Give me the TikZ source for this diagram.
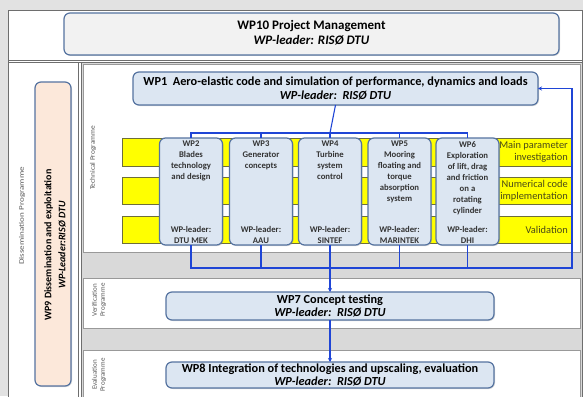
\documentclass[tikz,border=0pt]{standalone}
\usepackage{fontspec}
\setmainfont{Carlito}
\usetikzlibrary{arrows.meta,shadows}

\definecolor{wpfill}{HTML}{DCE6F2}
\definecolor{wpdraw}{HTML}{5573A0}
\definecolor{mgmtfill}{HTML}{F2F2F2}
\definecolor{dissfill}{HTML}{FCE8DA}
\definecolor{busblue}{HTML}{1F45D6}
\definecolor{barfill}{HTML}{FFFF00}
\definecolor{bardraw}{HTML}{6E6E3A}
\definecolor{bartext}{HTML}{4A4A18}
\definecolor{bandgray}{HTML}{D9D9D9}
\definecolor{pagegray}{HTML}{E2E2E2}
\definecolor{framegray}{HTML}{6E6E6E}

\tikzset{
  wp/.style={draw=wpdraw, line width=1.2pt, rounded corners=6pt, fill=wpfill,
    inner sep=0pt, outer sep=0pt,
    drop shadow={shadow xshift=1pt, shadow yshift=-1pt, opacity=0.3}},
  bigtxt/.style={font=\fontsize{12.3}{13.5}\selectfont\bfseries, align=center, inner sep=0pt},
  smalltxt/.style={font=\fontsize{8.7}{11}\selectfont\bfseries, align=center, inner sep=0pt, text=black!80},
  bus/.style={draw=busblue, line width=1.1pt},
  bartxt/.style={font=\fontsize{10.4}{12}\selectfont, align=right, text=bartext, anchor=east, inner sep=0pt},
  yellowbar/.style={fill=barfill, draw=bardraw, line width=0.7pt},
  progtxt/.style={font=\fontsize{7}{8}\selectfont, text=black!65, rotate=90, align=center, inner sep=0pt},
  panel/.style={fill=white, draw=framegray!70, line width=0.8pt},
  frameline/.style={draw=framegray, line width=0.9pt}
}

\begin{document}
\begin{tikzpicture}[x=1pt, y=-1pt]
  \useasboundingbox (0,0) rectangle (583,396);

  % page, outer frame and programme panels
  \fill[pagegray] (0,0) rectangle (583,396);
  \filldraw[fill=white, frameline] (8,10) rectangle (582,410);
  \fill[bandgray] (81,62) rectangle (582,410);
  \draw[panel] (83,64) rectangle (580,252);
  \draw[panel] (83,278) rectangle (580,328);
  \draw[panel] (83,350) rectangle (580,410);
  \draw[frameline] (8,60) -- (582,60);
  \draw[frameline] (8,62.5) -- (582,62.5);
  \draw[frameline] (78,62) -- (78,410);
  \draw[frameline] (81,62) -- (81,410);

  % programme labels
  \node[progtxt, xscale=1.3] (lbldis) at (22,216) {Dissemination Programme};
  \node[progtxt, xscale=1.05] (lbltec) at (93,158) {Technical Programme};
  \node[progtxt] (lblver) at (99,300) {Verification\\Programme};
  \node[progtxt] (lbleva) at (99,375) {Evaluation\\Programme};

  % activity bars
  \draw[yellowbar] (122,138) rectangle (572,166);
  \draw[yellowbar] (122,177) rectangle (572,204);
  \draw[yellowbar] (122,216) rectangle (572,243);
  \node[bartxt] (bar1) at (568,152) {Main parameter\\investigation};
  \node[bartxt] (bar2) at (568,191) {Numerical code\\implementation};
  \node[bartxt] (bar3) at (568,229.5) {Validation};

  % management and dissemination
  \node[wp, fill=mgmtfill, minimum width=495pt, minimum height=42pt] (wp10) at (311.5,34) {};
  \node[bigtxt, font=\fontsize{13}{14.5}\selectfont\bfseries] (wp10t) at (311.5,33)
    {WP10 Project Management\\\textit{WP-leader: RISØ DTU}};
  \node[wp, fill=dissfill, minimum width=36pt, minimum height=304pt] (wp9) at (53,234) {};
  \node[bigtxt, rotate=90, font=\fontsize{10}{14}\selectfont\bfseries] (wp9t) at (55,245)
    {WP9 Dissemination and exploitation\\\textit{WP-Leader:RISØ DTU}};

  % technical work packages
  \node[wp, minimum width=405pt, minimum height=33pt] (wp1) at (335.5,88.5) {};
  \node[bigtxt] (wp1t) at (wp1.center) {WP1\ \ Aero-elastic code and simulation of performance, dynamics and loads\\\textit{WP-leader:\ \ RISØ DTU}};

  \foreach \n/\x in {2/191,3/261,4/330,5/399.5,6/467.5}
    \node[wp, minimum width=63pt, minimum height=107pt] (wp\n) at (\x,191.5) {};

  \node[smalltxt, anchor=north] (wp2t) at (191,141) {WP2\\Blades\\technology\\and design};
  \node[smalltxt, anchor=north] (wp3t) at (261,141) {WP3\\Generator\\concepts};
  \node[smalltxt, anchor=north] (wp4t) at (330,141) {WP4\\Turbine\\system\\control};
  \node[smalltxt, anchor=north] (wp5t) at (399.5,141) {WP5\\Mooring\\floating and\\torque\\absorption\\system};
  \node[smalltxt, anchor=north] (wp6t) at (467.5,141) {WP6\\Exploration\\of lift, drag\\and friction\\on a\\rotating\\cylinder};
  \node[smalltxt, anchor=south] (wp2b) at (191,244) {WP-leader:\\DTU MEK};
  \node[smalltxt, anchor=south] (wp3b) at (261,244) {WP-leader:\\AAU};
  \node[smalltxt, anchor=south] (wp4b) at (330,244) {WP-leader:\\SINTEF};
  \node[smalltxt, anchor=south] (wp5b) at (399.5,244) {WP-leader:\\MARINTEK};
  \node[smalltxt, anchor=south] (wp6b) at (467.5,244) {WP-leader:\\DHI};

  % verification and evaluation
  \node[wp, minimum width=328pt, minimum height=28pt] (wp7) at (330,306) {};
  \node[bigtxt] (wp7t) at (wp7.center) {WP7 Concept testing\\\textit{WP-leader:\ \ RISØ DTU}};
  \node[wp, minimum width=328pt, minimum height=26pt] (wp8) at (330,375) {};
  \node[bigtxt] (wp8t) at (wp8.center) {WP8 Integration of technologies and upscaling, evaluation\\\textit{WP-leader:\ \ RISØ DTU}};

  % connectors
  \coordinate (tbus) at (330,133);
  \coordinate (bbus) at (330,268);
  \coordinate (fb) at (572,100);
  \draw[bus] (wp1.south) -- (tbus);
  \foreach \n in {2,3,4,5,6} {
    \draw[bus] (tbus) -| (wp\n.north);
    \draw[bus] (wp\n.south) |- (bbus);
  }
  \draw[bus, -{Stealth[length=4pt,width=4pt]}] (bbus) -| (wp1.east -| fb) -- (wp1.east);
  \draw[bus, -{Stealth[length=4pt,width=4pt]}] (bbus) -- (wp7.north);
  \draw[bus, -{Stealth[length=4pt,width=4pt]}] (wp7.south) -- (wp8.north);
\end{tikzpicture}
\end{document}
